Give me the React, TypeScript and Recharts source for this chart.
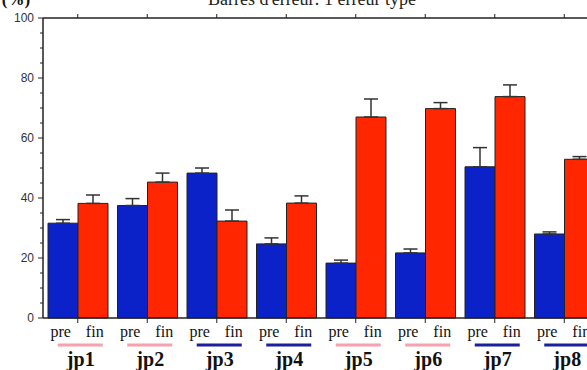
import { BarChart, Bar, XAxis, YAxis, ErrorBar } from 'recharts';

const groups = ['jp1', 'jp2', 'jp3', 'jp4', 'jp5', 'jp6', 'jp7', 'jp8'];
const preValues = [31.6, 37.5, 48.3, 24.7, 18.3, 21.7, 50.4, 28.0];
const finValues = [38.2, 45.3, 32.3, 38.3, 67.0, 69.8, 73.8, 52.9];
const preErrors = [1.2, 2.3, 1.7, 2.0, 1.0, 1.3, 6.4, 0.7];
const finErrors = [2.8, 3.0, 3.7, 2.4, 6.0, 2.0, 3.9, 0.9];
const groupMarks = ['pink', 'pink', 'navy', 'navy', 'pink', 'pink', 'navy', 'navy'];
const yTicks = [0, 5, 10, 15, 20, 25, 30, 35, 40, 45, 50, 55, 60, 65, 70, 75, 80, 85, 90, 95, 100];

const markColor: Record<string, string> = { pink: '#f7a0ae', navy: '#1a1f9c' };

const data = groups.map((g, i) => ({
  name: g,
  pre: preValues[i],
  fin: finValues[i],
  preErr: [0, preErrors[i]],
  finErr: [0, finErrors[i]],
}));

const serif = '"Liberation Serif", "Times New Roman", serif';

function GroupTick({ x, y, payload, index }: any) {
  const mark = groupMarks[index];
  return (
    <g>
      <line x1={x} y1={y} x2={x} y2={y + 5} stroke="#222" strokeWidth={1} />
      <text x={x - 17} y={y + 19} textAnchor="middle" fontFamily={serif} fontSize={16} fill="#111">pre</text>
      <text x={x + 17} y={y + 19} textAnchor="middle" fontFamily={serif} fontSize={16} fill="#111">fin</text>
      <line x1={x - 20} y1={y + 27} x2={x + 25} y2={y + 27} stroke={markColor[mark]} strokeWidth={3} />
      <text x={x + 3} y={y + 48} textAnchor="middle" fontFamily={serif} fontSize={20} fontWeight="bold" fill="#111">{payload.value}</text>
    </g>
  );
}

function TopTick({ x, y }: any) {
  return <line x1={x} y1={y} x2={x} y2={y - 4} stroke="#222" strokeWidth={1} />;
}

function YTick({ x, y, payload }: any) {
  const major = payload.value % 20 === 0;
  return (
    <g>
      <line x1={x - (major ? 5 : 3)} y1={y} x2={x} y2={y} stroke="#222" strokeWidth={1} />
      {major && (
        <text x={x - 9} y={y + 4} textAnchor="end" fontFamily='"Liberation Sans", Arial, sans-serif' fontSize={12} fill="#333">
          {payload.value}
        </text>
      )}
    </g>
  );
}

export default function App() {
  return (
    <div style={{ position: 'absolute', left: 0, top: 0, width: 587, height: 370, overflow: 'hidden', background: '#fff' }}>
      <BarChart
        width={620}
        height={370}
        data={data}
        margin={{ top: 17, right: 21, left: 0, bottom: 0 }}
        barGap={0}
        barSize={30}
      >
        <XAxis
          xAxisId="top"
          orientation="top"
          dataKey="name"
          height={1}
          tickSize={0}
          tickMargin={0}
          interval={0}
          tick={<TopTick />}
          tickLine={false}
          axisLine={{ stroke: '#222', strokeWidth: 1.5 }}
        />
        <XAxis
          dataKey="name"
          height={52}
          tickSize={0}
          tickMargin={0}
          tick={<GroupTick />}
          axisLine={{ stroke: '#222', strokeWidth: 1.5 }}
          tickLine={false}
          interval={0}
        />
        <YAxis
          width={43}
          domain={[0, 100]}
          ticks={yTicks}
          interval={0}
          tickSize={0}
          tickMargin={0}
          tick={<YTick />}
          tickLine={false}
          axisLine={{ stroke: '#222', strokeWidth: 1.5 }}
        />
        <Bar dataKey="pre" fill="#0a22c8" stroke="#222" strokeWidth={1} isAnimationActive={false}>
          <ErrorBar dataKey="preErr" direction="y" width={7} stroke="#333" strokeWidth={1.5} />
        </Bar>
        <Bar dataKey="fin" fill="#ff2600" stroke="#222" strokeWidth={1} isAnimationActive={false}>
          <ErrorBar dataKey="finErr" direction="y" width={7} stroke="#333" strokeWidth={1.5} />
        </Bar>
        <Bar xAxisId="top" dataKey="none" fill="none" isAnimationActive={false} />
      </BarChart>
      <svg width={587} height={20} style={{ position: 'absolute', left: 0, top: 0, overflow: 'visible' }}>
        <text x={16} y={5} textAnchor="middle" fontFamily={serif} fontSize={17} fontWeight="bold" fill="#111">(%)</text>
        <text x={312} y={5} textAnchor="middle" fontFamily={serif} fontSize={18} fill="#222">Barres d'erreur: 1 erreur type</text>
      </svg>
    </div>
  );
}
